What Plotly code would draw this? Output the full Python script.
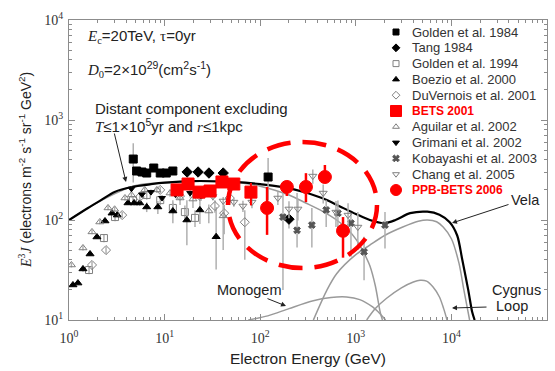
import plotly.graph_objects as go

# ---------------- model curves ----------------
total_E = [1, 1.58, 2.16, 3, 4.5, 7.2, 10, 20, 40, 70, 100, 200, 450, 700, 1000, 1400, 2000, 2600, 3700, 5600, 7500, 9600, 11500, 13000, 15000, 16500, 17500]
total_Y = [100, 132, 158, 191, 214, 228, 236, 245, 243, 236, 228, 208, 165, 135, 115, 100, 93, 100, 117, 121, 113, 95, 70, 40, 20, 12, 10]
distant_E = [1, 2, 5, 10, 20, 40, 70, 100, 200, 300, 450, 630, 830, 1020, 1200, 1400, 1600, 1800, 1900]
distant_Y = [100, 150, 222, 235, 244, 240, 232, 218, 178, 148, 122, 100, 80, 63, 48, 35, 22, 12, 10]
vela_E = [360, 500, 630, 1000, 1400, 2000, 3100, 4500, 5600, 7000, 8200, 10000, 12000, 13500, 15500]
vela_Y = [10, 20, 29, 45, 56, 70, 85, 97, 100, 96, 85, 65, 37, 20, 10]
cyg_E = [1300, 1600, 2100, 3000, 4000, 4700, 5500, 6400, 7500, 8300, 9000]
cyg_Y = [10, 13, 16.5, 21, 24, 25, 24.5, 21.5, 17, 13, 10]
mono_E = [75, 120, 200, 350, 550, 800, 1100, 1500, 1800, 2050]
mono_Y = [10, 11, 13, 15.5, 16.8, 17, 16, 13.5, 11.5, 10]

# ---------------- measurements ----------------
golden84_E = [4.7, 5.1, 5.8, 6.5, 7.7, 9.0, 10.4, 12.2, 121]
golden84_Y = [407, 309, 302, 295, 331, 295, 295, 309, 269]
golden84_up = [180, 25, 20, 20, 25, 20, 20, 25, 148]
golden84_dn = [170, 25, 20, 20, 25, 20, 20, 25, 111]

tang_E = [17.2, 22.4, 29.1, 41, 200]
tang_Y = [302, 302, 295, 295, 102]
tang_up = [15, 15, 15, 20, 20]
tang_dn = [15, 15, 15, 20, 20]

golden94_E = [1.62, 2.32, 3.03, 4.67, 6.5, 9.0, 12.2, 16.3, 20.8]
golden94_Y = [31.6, 66, 107, 158, 178, 158, 132, 120, 105]
golden94_up = [3, 6, 10, 15, 18, 18, 18, 20, 20]
golden94_dn = [3, 6, 10, 15, 18, 18, 18, 20, 20]

boezio_E = [1.1, 1.24, 1.4, 1.66, 1.96, 2.38, 2.82, 3.2, 4.14, 4.8, 5.5, 6.5, 8.5, 12.2, 17.1, 23.4, 34.6]
boezio_Y = [22.4, 23.4, 32.4, 45.7, 67.6, 97.7, 117, 112, 148, 148, 148, 135, 135, 123, 100, 126, 68]
boezio_up = [1, 1, 2, 2, 3, 4, 5, 5, 7, 8, 10, 15, 20, 35, 58, 40, 67]
boezio_dn = [1, 1, 2, 2, 3, 4, 5, 5, 7, 8, 10, 15, 20, 30, 44, 35, 36]

duv_E = [1.74, 2.44, 3.6, 5.5, 9.0, 14.5, 23.4, 33.6, 42, 48, 69]
duv_Y = [35.5, 50, 112, 170, 200, 174, 174, 138, 117, 166, 95]
duv_up = [3, 4, 8, 12, 15, 15, 18, 20, 25, 25, 30]
duv_dn = [3, 4, 8, 12, 15, 15, 18, 20, 45, 25, 55]

aguilar_E = [1.06, 1.4, 1.74, 2.1, 2.56, 3.0, 3.85, 4.5, 6.2, 8.3, 11.4, 14.5, 19.8, 29, 41]
aguilar_Y = [35.5, 52.5, 76, 95.5, 132, 128, 166, 178, 200, 200, 186, 166, 162, 123, 110]
aguilar_up = [2, 3, 4, 5, 7, 7, 9, 10, 12, 14, 15, 18, 20, 20, 30]
aguilar_dn = [2, 3, 4, 5, 7, 7, 9, 10, 12, 14, 15, 25, 30, 30, 60]

grimani_E = [4.5, 5.8, 7.2, 9.4, 13, 18.5, 24]
grimani_Y = [205, 180, 190, 166, 180, 186, 175]
grimani_up = [10, 10, 12, 12, 15, 18, 20]
grimani_dn = [10, 10, 12, 12, 15, 18, 20]

koba_E = [173, 243, 347, 490, 650, 890, 1220, 2020]
koba_Y = [107, 79, 89, 126, 117, 93, 48, 89]
koba_up = [133, 107, 43, 32, 40, 24, 20, 31]
koba_dn = [87, 26, 36, 41, 40, 50, 23, 37]

chang_E = [25, 32, 41, 53, 66, 82, 153, 200, 248, 355, 456, 620, 830, 1050]
chang_Y = [178, 172, 155, 151, 138, 151, 166, 129, 129, 275, 186, 120, 112, 85]
chang_up = [15, 15, 15, 15, 18, 20, 25, 25, 30, 45, 40, 35, 35, 35]
chang_dn = [15, 15, 15, 15, 18, 20, 25, 25, 30, 45, 40, 35, 35, 35]

bets01_E = [13.5, 17.6, 22.9, 29.9, 39.8, 53, 80]
bets01_Y = [200, 229, 190, 195, 240, 229, 190]
bets01_up = [12, 12, 12, 12, 15, 25, 45]
bets01_dn = [12, 12, 12, 12, 15, 25, 50]

ppb_E = [118, 190, 301, 475, 735]
ppb_Y = [132, 214, 214, 269, 78]
ppb_up = [82, 30, 80, 86, 29]
ppb_dn = [61, 40, 63, 29, 36]

legend_labels = ["Golden et al. 1984", "Tang 1984", "Golden et al. 1994", "Boezio et al. 2000",
                 "DuVernois et al. 2001", "BETS 2001", "Aguilar et al. 2002", "Grimani et al. 2002",
                 "Kobayashi et al. 2003", "Chang et al. 2005", "PPB-BETS 2006"]

x_tickvals = [1, 10, 100, 1000, 10000, 100000]
x_ticktext = ["10<sup>0</sup>", "10<sup>1</sup>", "10<sup>2</sup>", "10<sup>3</sup>", "10<sup>4</sup>", "10<sup>5</sup>"]
y_tickvals = [10, 100, 1000, 10000]
y_ticktext = ["10<sup>1</sup>", "10<sup>2</sup>", "10<sup>3</sup>", "10<sup>4</sup>"]
x_minor = [m * 10 ** k for k in range(0, 5) for m in range(2, 10)]
y_minor = [m * 10 ** k for k in range(1, 4) for m in range(2, 10)]

# ---------------- layout geometry (pixels) ----------------
W, H = 555, 371
L, R, T, B = 69, 8, 20, 51
PW, PH = W - L - R, H - T - B


def px(x):
    return (x - L) / PW


def py(y):
    return (H - B - y) / PH


GRAY = "#9a9a9a"
ERR = "#b0b0b0"

styles = [
    ("Golden et al. 1984", golden84_E, golden84_Y, golden84_up, golden84_dn, "square", "black", 8, "black", ERR, 1.5),
    ("Tang 1984", tang_E, tang_Y, tang_up, tang_dn, "diamond", "black", 8, "black", ERR, 1.5),
    ("Golden et al. 1994", golden94_E, golden94_Y, golden94_up, golden94_dn, "square-open", "#808080", 7, "#808080", ERR, 1.5),
    ("Boezio et al. 2000", boezio_E, boezio_Y, boezio_up, boezio_dn, "triangle-up", "black", 7, "black", ERR, 1.5),
    ("DuVernois et al. 2001", duv_E, duv_Y, duv_up, duv_dn, "diamond-open", "#808080", 7, "#808080", ERR, 1.5),
    ("Aguilar et al. 2002", aguilar_E, aguilar_Y, aguilar_up, aguilar_dn, "triangle-up-open", "#808080", 7, "#808080", ERR, 1.5),
    ("Grimani et al. 2002", grimani_E, grimani_Y, grimani_up, grimani_dn, "triangle-down", "black", 6, "black", ERR, 1.5),
    ("Kobayashi et al. 2003", koba_E, koba_Y, koba_up, koba_dn, "x", "#555555", 6, "#555555", ERR, 1.5),
    ("Chang et al. 2005", chang_E, chang_Y, chang_up, chang_dn, "triangle-down-open", "#808080", 7, "#808080", ERR, 1.5),
    ("BETS 2001", bets01_E, bets01_Y, bets01_up, bets01_dn, "square", "#ff0000", 12, "#ff0000", "#ff0000", 2),
    ("PPB-BETS 2006", ppb_E, ppb_Y, ppb_up, ppb_dn, "circle", "#ff0000", 13, "#ff0000", "#ff0000", 2.5),
]

fig = go.Figure()

for E, Y, col, w in [(mono_E, mono_Y, GRAY, 1.5), (cyg_E, cyg_Y, GRAY, 1.5), (vela_E, vela_Y, GRAY, 1.5),
                     (distant_E, distant_Y, GRAY, 1.5), (total_E, total_Y, "black", 2.2)]:
    fig.add_trace(go.Scatter(x=E, y=Y, mode="lines", line=dict(color=col, width=w, shape="spline", smoothing=0.8),
                             showlegend=False, hoverinfo="skip"))

for name, E, Y, up, dn, sym, col, size, lcol, ecol, eth in styles:
    fig.add_trace(go.Scatter(
        x=E, y=Y, mode="markers", name=name, showlegend=False,
        marker=dict(symbol=sym, color=col, size=size, line=dict(color=lcol, width=1)),
        error_y=dict(type="data", array=up, arrayminus=dn, color=ecol, thickness=eth, width=0),
    ))

# manual legend on an overlay axis
leg_sym = {s[0]: s for s in styles}
leg_x, leg_tx = px(396), px(410)
for i, lab in enumerate(legend_labels):
    s = leg_sym[lab]
    yy = py(32 + 15.8 * i)
    red = s[6] == "#ff0000"
    fig.add_trace(go.Scatter(
        x=[leg_x], y=[yy], xaxis="x2", yaxis="y2", mode="markers", showlegend=False, hoverinfo="skip",
        marker=dict(symbol=s[5], color=s[6], size=(11 if red else 6), line=dict(color=s[8], width=1)),
    ))
    fig.add_annotation(
        xref="paper", yref="paper", x=leg_tx, y=yy, xanchor="left", yanchor="middle", showarrow=False,
        text=(f"<b>{lab}</b>" if red else lab),
        font=dict(family="Liberation Sans, Arial", size=(12 if red else 13), color=("#ff0000" if red else "#333333")),
    )

serif = "Liberation Serif, Times New Roman"
sans = "Liberation Sans, Arial"

texts = [
    (85, 37, "<span style='font-family:Liberation Serif'><i>E</i><sub>c</sub></span>=20TeV, <span style='font-family:Liberation Serif'>τ</span>=0yr", 15),
    (85, 70, "<span style='font-family:Liberation Serif'><i>D</i><sub>0</sub></span>=2×10<sup>29</sup>(cm<sup>2</sup>s<sup>-1</sup>)", 15),
    (93, 108, "Distant component excluding", 15),
    (93, 125, "<span style='font-family:Liberation Serif'><i>T</i></span>≤1×10<sup>5</sup>yr and <span style='font-family:Liberation Serif'><i>r</i></span>≤1kpc", 15),
]
for x, y, t, fs in texts:
    fig.add_annotation(xref="paper", yref="paper", x=px(x), y=py(y), xanchor="left", yanchor="middle",
                       showarrow=False, text=t, font=dict(family=sans, size=fs, color="#222222"))

for x, y, t in [(525, 200, "Vela"), (516, 290, "Cygnus"), (512, 306, "Loop"), (249, 290, "Monogem")]:
    fig.add_annotation(xref="paper", yref="paper", x=px(x), y=py(y), xanchor="center", yanchor="middle",
                       showarrow=False, text=t, font=dict(family=sans, size=14.5, color="#222222"))

for tx, ty, hx, hy in [(114, 132, 126, 182), (510, 204, 452, 223), (488, 307, 452, 308), (266, 298, 286, 306)]:
    fig.add_annotation(xref="paper", yref="paper", x=px(hx), y=py(hy), ax=tx - hx, ay=ty - hy,
                       text="", showarrow=True, arrowhead=2, arrowsize=1, arrowwidth=1, arrowcolor="#222222")

fig.add_annotation(xref="paper", yref="paper", x=px(308), y=py(358), showarrow=False, xanchor="center", yanchor="middle",
                   text="Electron Energy (GeV)", font=dict(family=sans, size=15.5, color="#222222"))
fig.add_annotation(xref="paper", yref="paper", x=px(25), y=py(170), showarrow=False, xanchor="center", yanchor="middle",
                   textangle=-90,
                   text="<span style='font-family:Liberation Serif'><i>E</i><sup>3</sup><i>J</i></span> (electrons m<sup>-2</sup> s<sup>-1</sup> sr<sup>-1</sup> GeV<sup>2</sup>)",
                   font=dict(family=sans, size=14, color="#222222"))

fig.add_shape(type="circle", xref="paper", yref="paper", x0=px(228), x1=px(377), y0=py(268), y1=py(142),
              line=dict(color="#ff0000", width=4.5, dash="24px,12px"), layer="above")


def axis(tv, tt, rng, minor_vals, standoff):
    return dict(type="log", range=rng, tickmode="array", tickvals=tv, ticktext=tt,
                showgrid=False, zeroline=False, showline=True, linecolor="#8c8c8c", linewidth=1.2,
                mirror="allticks", ticks="inside", ticklen=6, tickcolor="#8c8c8c", tickwidth=1,
                minor=dict(tickmode="array", tickvals=minor_vals, ticks="inside", ticklen=3,
                           tickcolor="#8c8c8c", tickwidth=1, showgrid=False),
                ticklabelstandoff=standoff,
                tickfont=dict(family=serif, size=14, color="#333333"), automargin=False)


fig.update_layout(
    width=W, height=H, margin=dict(l=L, r=R, t=T, b=B, autoexpand=False),
    paper_bgcolor="white", plot_bgcolor="white", showlegend=False,
    xaxis=axis(x_tickvals, x_ticktext, [0, 5], x_minor, 5),
    yaxis=axis(y_tickvals, y_ticktext, [1, 4], y_minor, 2),
    xaxis2=dict(overlaying="x", range=[0, 1], visible=False),
    yaxis2=dict(overlaying="y", range=[0, 1], visible=False),
)

fig.write_html("out.html", config={"displayModeBar": False},
               post_script="document.body.style.margin='0';document.body.style.padding='0';")
